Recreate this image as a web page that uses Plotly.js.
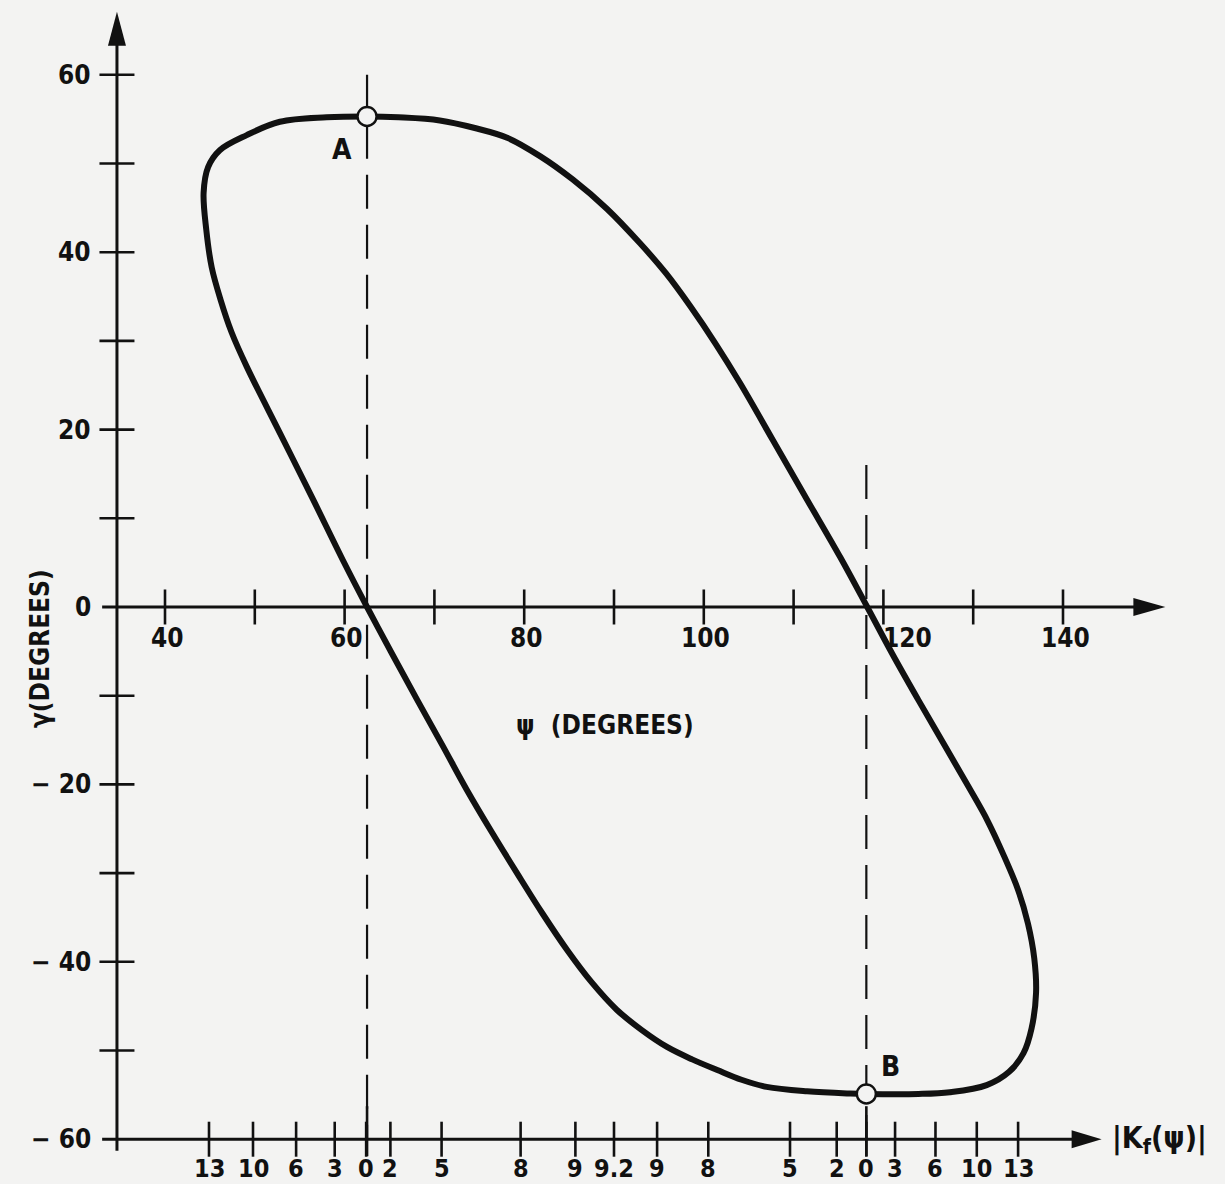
<!DOCTYPE html>
<html>
<head>
<meta charset="utf-8">
<script src="https://cdn.plot.ly/plotly-3.0.1.min.js"></script>
<style>html,body{margin:0;padding:0;background:#f3f3f2;}#chart{width:1225px;height:1184px;}</style>
</head>
<body>
<div id="chart"></div>
<script>
// ---- data (clockwise from A) ----
const curvePsi = [62.5, 66.0, 70.6, 74.5, 78.1, 81.8, 85.4, 89.2, 92.9, 95.8, 98.5, 101.3, 104.0, 107.7, 111.5, 115.2, 118.2, 121.0, 123.9, 126.7, 129.5, 131.6, 133.4, 135.0, 136.1, 136.8, 137.0, 136.5, 135.6, 134.0, 131.5, 127.4, 123.9, 118.1, 116.3, 111.5, 107.0, 104.2, 101.5, 98.7, 95.9, 93.1, 90.3, 87.5, 84.8, 82.0, 79.2, 76.4, 73.6, 70.9, 68.1, 65.3, 62.5, 59.8, 56.5, 52.8, 49.1, 47.4, 46.2, 45.2, 44.6, 44.3, 44.8, 46.1, 49.1, 52.8, 58.0, 62.5];
const curveGamma = [55.3, 55.2, 54.85, 54.0, 52.9, 50.8, 48.2, 44.9, 41.0, 37.6, 33.9, 29.7, 25.3, 18.8, 12.1, 5.6, 0, -5.3, -10.5, -15.4, -20.3, -24.1, -28.0, -31.9, -35.7, -39.6, -43.5, -47.5, -50.3, -52.4, -53.9, -54.7, -54.9, -54.9, -54.85, -54.6, -54.1, -53.3, -52.2, -51.0, -49.6, -47.7, -45.4, -42.3, -38.7, -34.5, -30.0, -25.4, -20.6, -15.6, -10.5, -5.3, 0, 5.3, 12.1, 19.6, 27.1, 31.0, 34.6, 38.3, 42.5, 46.7, 49.6, 51.5, 53.2, 54.7, 55.2, 55.3];

const pointNames = ['A', 'B'];
const pointPsi = [62.5, 118.1];
const pointGamma = [55.3, -54.9];
const dashTop = [60, 16];           // gamma where each dashed line starts

const psiTickVals = [40, 50, 60, 70, 80, 90, 100, 110, 120, 130, 140];
const psiLabelVals = [40, 60, 80, 100, 120, 140];
const psiLabelText = ['40', '60', '80', '100', '120', '140'];

const gammaTickVals = [60, 50, 40, 30, 20, 10, -10, -20, -30, -40, -50];
const gammaLabelVals = [60, 40, 20, 0, -20, -40, -60];
const gammaLabelText = ['60', '40', '20', '0', '\u2212 20', '\u2212 40', '\u2212 60'];

const kfTickPsi = [44.9, 49.8, 54.6, 58.9, 62.4, 65.1, 70.8, 79.6, 85.7, 90.0, 94.8, 100.5, 109.6, 114.8, 118.1, 121.3, 125.8, 130.4, 135.0];
const kfTickLabels = ['13', '10', '6', '3', '0', '2', '5', '8', '9', '9.2', '9', '8', '5', '2', '0', '3', '6', '10', '13'];

// ---- geometry of the hand-drawn axes ----
const yAxisPsi = 34.65, xAxisEnd = 151.4, xAxisStart = 33.0;
const yAxisTop = 67.1, yAxisBottom = -61.3;
const kfAxisGamma = -60, kfAxisEnd = 144.3;

const FONT = "'DejaVu Sans Condensed','Liberation Sans Narrow','DejaVu Sans',sans-serif";
const INK = '#111';
const BG = '#f3f3f2';

const traces = [];
// dashed verticals through A and B
pointPsi.forEach((p, i) => {
  traces.push({x: [p, p], y: [dashTop[i], kfAxisGamma], mode: 'lines',
    line: {color: INK, width: 2.2, dash: '34px,16px'}, hoverinfo: 'skip'});
});
// x-axis ticks
traces.push({x: psiTickVals, y: psiTickVals.map(() => 0), mode: 'markers',
  marker: {symbol: 'line-ns', size: 25, line: {width: 2.6, color: INK}}, hoverinfo: 'skip'});
// y-axis ticks
traces.push({x: gammaTickVals.map(() => yAxisPsi), y: gammaTickVals, mode: 'markers',
  marker: {symbol: 'line-ew', size: 25, line: {width: 2.6, color: INK}}, hoverinfo: 'skip'});
// Kf axis ticks
traces.push({x: kfTickPsi, y: kfTickPsi.map(() => kfAxisGamma), mode: 'markers',
  marker: {symbol: 'line-ns', size: 25, line: {width: 2.6, color: INK}}, hoverinfo: 'skip'});
// the loop
traces.push({x: curvePsi, y: curveGamma, mode: 'lines',
  line: {color: INK, width: 6, shape: 'spline', smoothing: 1}, hoverinfo: 'skip'});
// points A and B
traces.push({x: pointPsi, y: pointGamma, mode: 'markers',
  marker: {symbol: 'circle', size: 19, color: BG, line: {width: 2.4, color: INK}}, hoverinfo: 'skip'});

const shapes = [];
const axLine = {color: INK, width: 3};
shapes.push({type: 'line', xref: 'x', yref: 'y', x0: yAxisPsi, x1: yAxisPsi, y0: yAxisBottom, y1: yAxisTop - 2, line: axLine, layer: 'below'});
shapes.push({type: 'line', xref: 'x', yref: 'y', x0: xAxisStart, x1: xAxisEnd - 2, y0: 0, y1: 0, line: axLine, layer: 'below'});
shapes.push({type: 'line', xref: 'x', yref: 'y', x0: xAxisStart, x1: kfAxisEnd - 2, y0: kfAxisGamma, y1: kfAxisGamma, line: axLine, layer: 'below'});
// arrowheads
const arrow = (xa, ya, path) => ({type: 'path', xref: 'x', yref: 'y', xsizemode: 'pixel', ysizemode: 'pixel',
  xanchor: xa, yanchor: ya, path: path, fillcolor: INK, line: {width: 0}});
shapes.push(arrow(yAxisPsi, yAxisTop, 'M0,0 L-9,-34 L9,-34 Z'));
shapes.push(arrow(xAxisEnd, 0, 'M0,0 L-32,9 L-32,-9 Z'));
shapes.push(arrow(kfAxisEnd, kfAxisGamma, 'M0,0 L-30,9 L-30,-9 Z'));
// long zero ticks on the Kf axis
pointPsi.forEach(p => {
  shapes.push({type: 'line', xref: 'x', yref: 'y', x0: p, x1: p, line: {color: INK, width: 2.6},
    ysizemode: 'pixel', yanchor: kfAxisGamma, y0: -17, y1: 33});
});

const annotations = [];
const tf = (size) => ({family: FONT, size: size, color: INK, weight: 'bold'});
psiLabelVals.forEach((v, i) => {
  annotations.push({x: v, y: 0, xref: 'x', yref: 'y', text: psiLabelText[i], showarrow: false,
    xanchor: 'center', yanchor: 'middle', yshift: -31, xshift: v === 120 ? 24 : 2, font: tf(26)});
});
gammaLabelVals.forEach((v, i) => {
  annotations.push({x: yAxisPsi, y: v, xref: 'x', yref: 'y', text: gammaLabelText[i], showarrow: false,
    xanchor: 'right', yanchor: 'middle', xshift: -24, font: tf(26)});
});
kfTickPsi.forEach((v, i) => {
  annotations.push({x: v, y: kfAxisGamma, xref: 'x', yref: 'y', text: kfTickLabels[i], showarrow: false,
    xanchor: 'center', yanchor: 'middle', yshift: -29, font: tf(25)});
});
pointNames.forEach((n, i) => {
  annotations.push({x: pointPsi[i], y: pointGamma[i], xref: 'x', yref: 'y', text: n, showarrow: false,
    xanchor: 'center', yanchor: 'middle', xshift: i === 0 ? -25 : 24, yshift: i === 0 ? -33 : 27, font: tf(28)});
});
annotations.push({x: 0.494, y: 0.388, xref: 'paper', yref: 'paper', showarrow: false,
  text: '\u03C8  (DEGREES)', font: tf(26)});
annotations.push({x: 0.019, y: 0.452, xref: 'paper', yref: 'paper', showarrow: false, textangle: -90,
  text: '\u03B3(DEGREES)', font: tf(26)});
annotations.push({x: kfAxisEnd, y: kfAxisGamma, xref: 'x', yref: 'y', showarrow: false, xanchor: 'left', yanchor: 'middle',
  xshift: 8, text: '|K<sub>f</sub>(\u03C8)|', font: tf(30)});

const layout = {
  width: 1225, height: 1184,
  margin: {l: 0, r: 0, t: 0, b: 0},
  paper_bgcolor: BG, plot_bgcolor: BG,
  showlegend: false,
  xaxis: {range: [21.626, 158.04], visible: false, fixedrange: true},
  yaxis: {range: [-65.05, 68.43], visible: false, fixedrange: true},
  shapes: shapes,
  annotations: annotations
};

Plotly.newPlot('chart', traces, layout, {staticPlot: true, displayModeBar: false});
</script>
</body>
</html>
